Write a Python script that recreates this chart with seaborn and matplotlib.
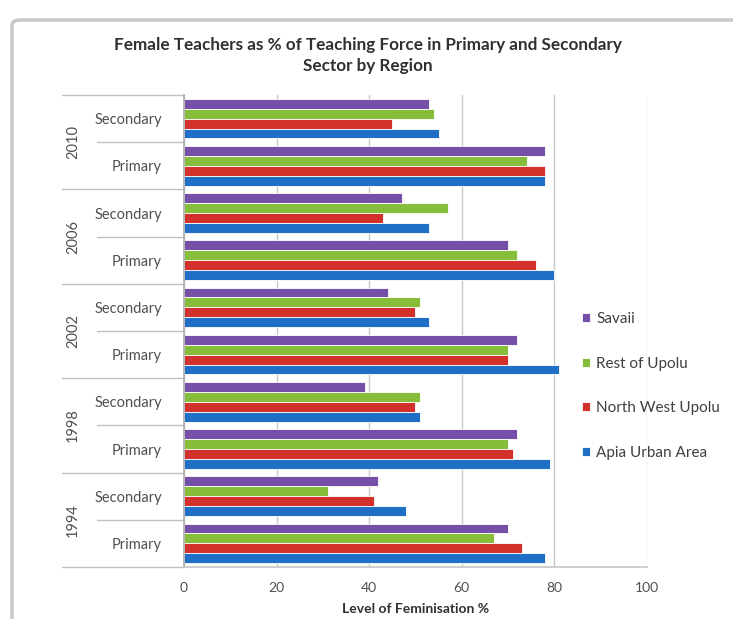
"""Female teachers as % of teaching force, grouped horizontal bars."""

import numpy as np
import pandas as pd
import matplotlib
matplotlib.use("Agg")
import matplotlib.pyplot as plt
from matplotlib.patches import FancyBboxPatch
import seaborn as sns

years = ["1994", "1998", "2002", "2006", "2010"]
sectors = ["Primary", "Secondary"]
regions = ["Savaii", "Rest of Upolu", "North West Upolu", "Apia Urban Area"]

# values per region, ordered 1994 Primary, 1994 Secondary, 1998 Primary, ...
apia = [78, 48, 79, 51, 81, 53, 80, 53, 78, 55]
nw_upolu = [73, 41, 71, 50, 70, 50, 76, 43, 78, 45]
rest_upolu = [67, 31, 70, 51, 70, 51, 72, 57, 74, 54]
savaii = [70, 42, 72, 39, 72, 44, 70, 47, 78, 53]

colors = ["#7650A8", "#86BE3C", "#D2302A", "#1F6FC6"]

cats = [f"{y} {s}" for y in years for s in sectors]
values = {"Savaii": savaii, "Rest of Upolu": rest_upolu,
          "North West Upolu": nw_upolu, "Apia Urban Area": apia}
rows = []
for reg in regions:
    for c, v in zip(cats, values[reg]):
        rows.append({"cat": c, "region": reg, "value": v})
df = pd.DataFrame(rows)
order = cats[::-1]

sns.set_theme(style="white")
plt.rcParams["font.family"] = ["Lato", "DejaVu Sans"]

fig = plt.figure(figsize=(7.33, 6.19), dpi=100)
ax = fig.add_axes([0.251, 1 - 567 / 619, 463 / 733, 472 / 619])

sns.barplot(data=df, y="cat", x="value", hue="region", order=order,
            hue_order=regions, palette=colors, saturation=1, orient="h",
            width=0.84, edgecolor="white", linewidth=0.6, ax=ax)

ax.set_xlim(0, 100)
ax.set_ylim(len(order) - 0.5, -0.5)
ax.set_xticks(np.arange(0, 101, 20))
ax.xaxis.grid(True, color="#c8c8c8", linewidth=1)
ax.set_axisbelow(True)
ax.tick_params(axis="x", colors="#505050", labelsize=10, length=0, pad=11)
ax.tick_params(axis="y", colors="#505050", labelsize=10.5, length=0, pad=16)
ax.set_yticks(range(len(order)))
ax.set_yticklabels([c.split(" ")[1] for c in order])
ax.set_ylabel("")
ax.set_xlabel("Level of Feminisation %", fontsize=10, fontweight="bold",
              color="#303030", labelpad=6)

for side in ["top", "right"]:
    ax.spines[side].set_visible(False)
ax.spines["left"].set_color("#b0b0b0")
ax.spines["bottom"].set_color("#c8c8c8")

# two-level category axis: year labels and separators
trans = ax.get_yaxis_transform()
for y in years:
    pos = (order.index(f"{y} Primary") + order.index(f"{y} Secondary")) / 2
    ax.text(-0.24, pos, y, transform=trans, rotation=90, ha="center",
            va="center", fontsize=10.5, color="#505050")
for k in range(len(order) + 1):
    yb = k - 0.5
    x0 = -0.263 if k % 2 == 0 else -0.188
    ax.plot([x0, 0], [yb, yb], transform=trans, color="#c0c0c0",
            linewidth=1, clip_on=False)

leg = ax.legend(loc="center left", bbox_to_anchor=(568 / 733, 1 - 386 / 619),
                bbox_transform=fig.transFigure, frameon=False, fontsize=11,
                handlelength=0.55, handleheight=0.55, handletextpad=0.4,
                labelspacing=2.0)
for t in leg.get_texts():
    t.set_color("#404040")

fig.suptitle("Female Teachers as % of Teaching Force in Primary and Secondary\nSector by Region",
             x=0.502, y=0.94, fontsize=12.3, fontweight="bold", color="#303030",
             linespacing=1.4)

frame = FancyBboxPatch((12 / 733, -0.05), 1.0, 1 - 20 / 619 + 0.05,
                       boxstyle="round,pad=0,rounding_size=0.01",
                       transform=fig.transFigure, fill=False,
                       edgecolor="#c8c8c8", linewidth=2.5)
fig.patches.append(frame)

fig.savefig("out.png", dpi=100)
